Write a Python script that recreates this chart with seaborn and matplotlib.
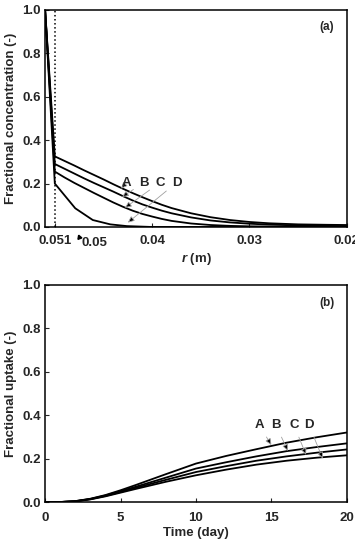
import matplotlib
matplotlib.use("Agg")
import matplotlib.pyplot as plt
import seaborn as sns
import pandas as pd

# ---- data: panel (a) ----
r_abc = [0.051, 0.050, 0.049, 0.048, 0.047, 0.046, 0.045, 0.044, 0.043, 0.042, 0.041,
         0.040, 0.039, 0.038, 0.036, 0.034, 0.032, 0.030, 0.028, 0.025, 0.022, 0.020]
conc_A = [1.0, 0.325, 0.304, 0.283, 0.261, 0.240, 0.219, 0.197, 0.176, 0.156, 0.137,
          0.119, 0.102, 0.087, 0.063, 0.045, 0.032, 0.023, 0.017, 0.012, 0.010, 0.009]
conc_B = [1.0, 0.290, 0.268, 0.246, 0.224, 0.203, 0.183, 0.163, 0.142, 0.122, 0.104,
          0.089, 0.075, 0.063, 0.044, 0.030, 0.021, 0.015, 0.011, 0.007, 0.005, 0.004]
conc_C = [1.0, 0.255, 0.228, 0.203, 0.180, 0.157, 0.135, 0.113, 0.093, 0.075, 0.060,
          0.048, 0.037, 0.028, 0.016, 0.009, 0.005, 0.003, 0.002, 0.001, 0.0, 0.0]
r_d = [0.051, 0.050, 0.0479, 0.0461, 0.0443, 0.0426, 0.040, 0.020]
conc_D = [1.0, 0.20, 0.086, 0.032, 0.012, 0.004, 0.0, 0.0]

# ---- data: panel (b) ----
time_day = [0, 1, 2, 3, 4, 5, 6, 8, 10, 12, 14, 16, 18, 20]
up_A = [0, 0, 0.004, 0.015, 0.032, 0.054, 0.078, 0.128, 0.177, 0.212, 0.243, 0.273, 0.298, 0.32]
up_B = [0, 0, 0.004, 0.014, 0.030, 0.050, 0.070, 0.112, 0.154, 0.183, 0.210, 0.234, 0.253, 0.27]
up_C = [0, 0, 0.003, 0.013, 0.028, 0.046, 0.065, 0.102, 0.138, 0.165, 0.190, 0.210, 0.227, 0.242]
up_D = [0, 0, 0.003, 0.012, 0.026, 0.043, 0.060, 0.093, 0.123, 0.149, 0.172, 0.190, 0.204, 0.215]

labels = ["A", "B", "C", "D"]
y_ticks = [0.0, 0.2, 0.4, 0.6, 0.8, 1.0]
xa_ticks = [0.05, 0.04, 0.03, 0.02]
xa_ticklabels = ["0.051", "0.04", "0.03", "0.02"]
xb_ticks = [0, 5, 10, 15, 20]

sns.set_style("ticks")
plt.rcParams["font.family"] = ["Liberation Sans", "DejaVu Sans"]
plt.rcParams["font.weight"] = "bold"
plt.rcParams["mathtext.fontset"] = "custom"
plt.rcParams["mathtext.it"] = "Liberation Sans:italic:bold"
plt.rcParams["mathtext.rm"] = "Liberation Sans:bold"

df_a = pd.concat([
    pd.DataFrame({"r": r_abc, "c": conc_A, "curve": "A"}),
    pd.DataFrame({"r": r_abc, "c": conc_B, "curve": "B"}),
    pd.DataFrame({"r": r_abc, "c": conc_C, "curve": "C"}),
    pd.DataFrame({"r": r_d, "c": conc_D, "curve": "D"}),
])
df_b = pd.concat([
    pd.DataFrame({"t": time_day, "u": u, "curve": l})
    for u, l in zip([up_A, up_B, up_C, up_D], labels)
])

FS = 9.5
fig = plt.figure(figsize=(3.55, 5.43), dpi=100)
ax1 = fig.add_axes([0.127, 0.582, 0.850, 0.400])
ax2 = fig.add_axes([0.127, 0.0755, 0.850, 0.400])

pal = {l: "black" for l in labels}
sns.lineplot(data=df_a, x="r", y="c", hue="curve", palette=pal, ax=ax1,
             legend=False, lw=1.3, estimator=None, sort=False)
sns.lineplot(data=df_b, x="t", y="u", hue="curve", palette=pal, ax=ax2,
             legend=False, lw=1.3, estimator=None, sort=False)

ax1.axvline(0.05, ls=":", color="black", lw=1.1)

for ax in (ax1, ax2):
    ax.set_ylim(0, 1.0)
    ax.set_yticks(y_ticks)
    ax.set_yticklabels([f"{v:.1f}" for v in y_ticks])
    ax.tick_params(direction="in", length=3, width=0.8, labelsize=FS, pad=3)
    for s in ax.spines.values():
        s.set_visible(True)
        s.set_linewidth(1.1)
        s.set_color("black")
    for t in ax.get_xticklabels() + ax.get_yticklabels():
        t.set_fontweight("bold")

ax1.tick_params(axis="x", pad=6)
ax2.tick_params(axis="x", pad=7)

ax1.set_xlim(0.051, 0.02)
ax1.set_xticks(xa_ticks)
ax1.set_xticklabels(xa_ticklabels, fontweight="bold")
ax1.set_xlabel("$r$ (m)", fontsize=FS, fontweight="bold", labelpad=3)
ax1.set_ylabel("Fractional concentration (-)", fontsize=FS, fontweight="bold", labelpad=4)
ax1.text(0.934, 0.92, "(a)", transform=ax1.transAxes, fontsize=8.5, fontweight="bold",
         ha="center", va="center")
# extra "0.05" label under axis
tr = ax1.get_xaxis_transform()
ax1.text(0.0459, -0.045, "0.05", transform=tr, fontsize=FS, fontweight="bold",
         ha="center", va="top")
ax1.plot([0.0475], [-0.045], marker=(3, 0, 20), color="black", ms=3.5,
         transform=tr, clip_on=False)

ax2.set_xlim(0, 20)
ax2.set_xticks(xb_ticks)
ax2.set_xticklabels([str(v) for v in xb_ticks], fontweight="bold")
ax2.set_xlabel("Time (day)", fontsize=FS, fontweight="bold", labelpad=2)
ax2.set_ylabel("Fractional uptake (-)", fontsize=FS, fontweight="bold", labelpad=4)
ax2.text(0.934, 0.917, "(b)", transform=ax2.transAxes, fontsize=8.5, fontweight="bold",
         ha="center", va="center")

arrow = dict(arrowstyle="-|>,head_length=0.4,head_width=0.18",
             edgecolor="#a0a0a0", facecolor="black", lw=0.6, shrinkA=2, shrinkB=0)

# panel (a) labels
lab_a_pos = [(0.04264, 0.204), (0.04086, 0.204), (0.03921, 0.204), (0.0375, 0.204)]
lab_a_tgt = [(0.0432, 0.176), (0.0431, 0.138), (0.0428, 0.088), (0.0425, 0.02)]
for l, p, q in zip(labels, lab_a_pos, lab_a_tgt):
    ax1.annotate(l, xy=q, xytext=p, fontsize=FS, fontweight="bold",
                 ha="center", va="center", arrowprops=arrow)

# panel (b) labels
lab_b_pos = [(14.2, 0.353), (15.3, 0.353), (16.5, 0.353), (17.5, 0.353)]
lab_b_tgt = [(15.0, 0.262), (16.1, 0.235), (17.3, 0.217), (18.4, 0.200)]
for l, p, q in zip(labels, lab_b_pos, lab_b_tgt):
    ax2.annotate(l, xy=q, xytext=p, fontsize=FS, fontweight="bold",
                 ha="center", va="center", arrowprops=arrow)

fig.savefig("out.png", dpi=100)
